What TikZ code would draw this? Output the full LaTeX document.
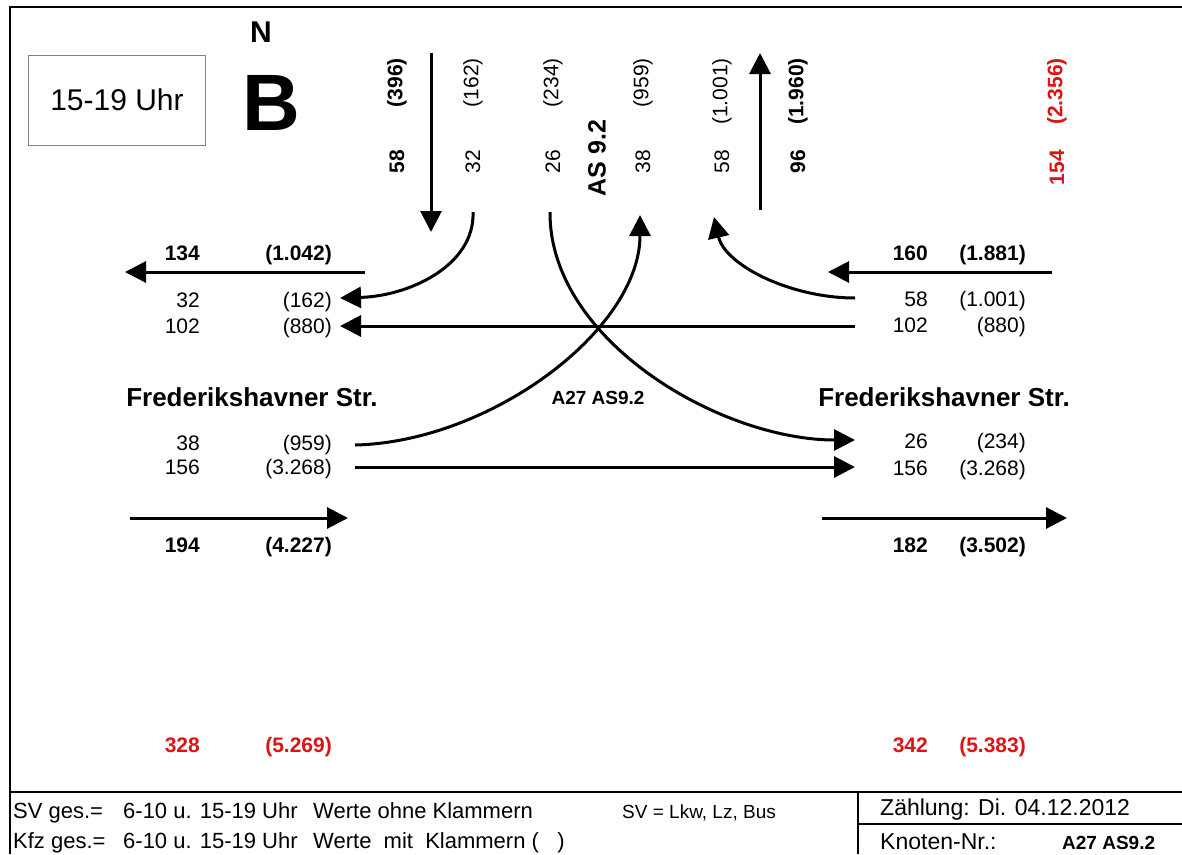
\documentclass[tikz,border=0pt]{standalone}
\usepackage{fontspec}
\setmainfont{Liberation Sans}
\usetikzlibrary{arrows.meta}
\definecolor{zred}{RGB}{222,20,20}

\begin{document}
\begin{tikzpicture}[x=1pt, y=-1pt]
\tikzstyle{every node}=[inner sep=0pt];
\tikzstyle{flow}=[line width=3pt, -{Triangle[length=21pt,width=21pt]}];
\tikzstyle{num}=[font=\fontsize{21}{21}\selectfont];
\tikzstyle{bnum}=[font=\fontsize{21}{21}\selectfont\bfseries];
\tikzstyle{rnum}=[bnum, text=zred];
\tikzstyle{foot}=[font=\fontsize{22}{22}\selectfont, anchor=base west];
\useasboundingbox (0,0) rectangle (1182,854);
\draw[line width=2pt] (10,854) -- (10,7) -- (1182,7);
\draw[line width=2pt] (10,792) -- (1182,792) (858,792) -- (858,854) (858,824) -- (1182,824);
\draw[gray, line width=1pt] (28,55) rectangle (205,145);
\node[font=\fontsize{30}{30}\selectfont] (uhr) at (117,100) {15-19 Uhr};
\node[font=\fontsize{30}{30}\selectfont\bfseries] (nord) at (261,32) {N};
\node[font=\fontsize{80}{80}\selectfont\bfseries] (bb) at (271,103) {B};
\foreach \x/\a/\b/\s [count=\i] in {397/58/(396)/bnum, 473/32/(162)/num, 553/26/(234)/num, 643/38/(959)/num, 722/58/(1.001)/num, 798/96/(1.960)/bnum, 1057/154/(2.356)/rnum}
{
\node[\s, rotate=90, anchor=east] (s\i) at (\x,150) {\a};
\node[\s, rotate=90, anchor=east] (k\i) at (\x,58) {\b};
}
\node[font=\fontsize{25}{25}\selectfont\bfseries, rotate=90] (as) at (597,158) {AS 9.2};
\foreach \y/\a/\b/\s [count=\i] in {260/134/(1.042)/bnum, 307/32/(162)/num, 333/102/(880)/num, 450/38/(959)/num, 474/156/(3.268)/num, 552/194/(4.227)/bnum, 752/328/(5.269)/rnum}
{
\node[\s, anchor=base east] (la\i) at (200,\y) {\a};
\node[\s, anchor=base east] (lb\i) at (332,\y) {\b};
}
\foreach \y/\a/\b/\s [count=\i] in {260/160/(1.881)/bnum, 306/58/(1.001)/num, 332/102/(880)/num, 448/26/(234)/num, 475/156/(3.268)/num, 552/182/(3.502)/bnum, 752/342/(5.383)/rnum}
{
\node[\s, anchor=base east] (ra\i) at (928,\y) {\a};
\node[\s, anchor=base east] (rb\i) at (1026,\y) {\b};
}
\node[font=\fontsize{26}{26}\selectfont\bfseries, anchor=base] (strw) at (252,406) {Frederikshavner Str.};
\node[font=\fontsize{26}{26}\selectfont\bfseries, anchor=base] (stro) at (944,406) {Frederikshavner Str.};
\node[font=\fontsize{19}{19}\selectfont\bfseries] (knot) at (598,398) {A27 AS9.2};
\coordinate (nin) at (431,53);
\coordinate (nine) at (431,232);
\coordinate (nout) at (760,210);
\coordinate (noute) at (760,53);
\coordinate (win) at (130,518);
\coordinate (wine) at (348,518);
\coordinate (wout) at (365,272);
\coordinate (woute) at (125,272);
\coordinate (oin) at (1052,272);
\coordinate (oine) at (828,272);
\coordinate (oout) at (822,518);
\coordinate (ooute) at (1067,518);
\draw[flow] (nin) -- (nine);
\draw[flow] (nout) -- (noute);
\draw[flow] (win) -- (wine);
\draw[flow] (wout) -- (woute);
\draw[flow] (oin) -- (oine);
\draw[flow] (oout) -- (ooute);
\coordinate (n32) at (473,212);
\coordinate (n26) at (550,212);
\coordinate (w38) at (355,445);
\coordinate (w156) at (355,467);
\coordinate (o58) at (855,298);
\coordinate (o102) at (855,326);
\coordinate (t162) at (340,298);
\coordinate (t880) at (340,326);
\coordinate (t959) at (640,215);
\coordinate (t1001) at (714,217);
\coordinate (t234) at (855,440);
\coordinate (t3268) at (855,467);
\draw[flow] (n32) .. controls (475,265) and (410,296) .. (t162);
\draw[flow] (n26) .. controls (549,340) and (720,440) .. (t234);
\draw[flow] (w38) .. controls (490,442) and (640,330) .. (t959);
\draw[flow] (o58) .. controls (790,298) and (725,265) .. (t1001);
\draw[flow] (o102) -- (t880);
\draw[flow] (w156) -- (t3268);
\node[foot] (sv) at (13,818) {SV ges.=};
\node[foot] (svz) at (123,818) {6-10 u. 15-19 Uhr};
\node[foot] (svw) at (313,818) {Werte ohne Klammern};
\node[foot] (kfz) at (13,848) {Kfz ges.=};
\node[foot] (kfzz) at (123,848) {6-10 u. 15-19 Uhr};
\node[foot] (kfzw) at (313,848) {Werte\ \ mit\ \ Klammern (\ \ \ )};
\node[foot, font=\fontsize{19}{19}\selectfont] (svart) at (622,818) {SV = Lkw, Lz, Bus};
\node[foot, font=\fontsize{23}{23}\selectfont] (datum) at (880,815) {Zählung: Di. 04.12.2012};
\node[foot, font=\fontsize{23}{23}\selectfont] (knr) at (880,849) {Knoten-Nr.:};
\node[foot, font=\fontsize{19}{19}\selectfont\bfseries] (knrw) at (1062,849) {A27 AS9.2};
\end{tikzpicture}
\end{document}
